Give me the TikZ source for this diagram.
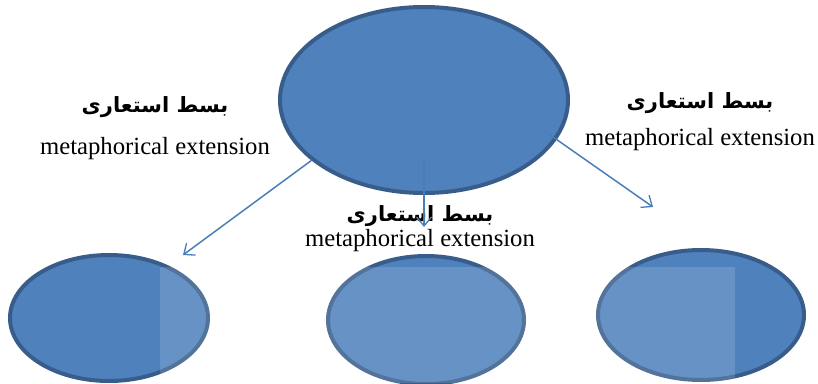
\documentclass[tikz,border=0pt]{standalone}
\usepackage{fontspec}
\setmainfont{Liberation Serif}
\newfontfamily\arabicfont[Script=Arabic]{DejaVu Sans}
\TeXXeTstate=1
\usetikzlibrary{shapes.geometric,arrows.meta}
\definecolor{ofill}{HTML}{4F81BD}
\definecolor{oline}{HTML}{385D8A}
\definecolor{arr}{HTML}{4A7EBB}
\begin{document}
\begin{tikzpicture}[x=1pt,y=-1pt,
  bubble/.style={ellipse,draw=oline,fill=ofill,line width=4pt,inner sep=0pt},
  link/.style={draw=arr,line width=1.5pt,-{Straight Barb[length=9pt,width=15pt,line width=1.3pt]}},
  fa/.style={font=\arabicfont\bfseries\fontsize{21}{24}\selectfont,inner sep=0pt},
  en/.style={font=\fontsize{24.7}{28}\selectfont,inner sep=0pt}]
\useasboundingbox (0,0) rectangle (818,383);
\node[bubble,minimum width=288pt,minimum height=186pt] (top) at (424,100) {};
\node[bubble,minimum width=198pt,minimum height=126pt] (bl) at (109,318) {};
\node[bubble,minimum width=196pt,minimum height=128pt] (bm) at (426,320) {};
\node[bubble,minimum width=206pt,minimum height=130pt] (br) at (701,315) {};
\fill[white,opacity=0.14] (160,267) rectangle (735,383);
\coordinate (s1) at (312,160);
\coordinate (s2) at (424,158);
\coordinate (s3) at (543,130);
\coordinate (e1) at (183,255);
\coordinate (e2) at (424,227);
\coordinate (e3) at (653,207);
\node[fa] (fl) at (155,107) {\beginR بسط استعاری\endR};
\node[en] (el) at (155,149) {metaphorical extension};
\node[fa] (fr) at (700,103) {\beginR بسط استعاری\endR};
\node[en] (er) at (700,140) {metaphorical extension};
\node[fa] (fm) at (420,216) {\beginR بسط استعاری\endR};
\node[en] (em) at (420,241) {metaphorical extension};
\draw[link] (s1) -- (e1);
\draw[link] (s2) -- (e2);
\draw[link] (s3) -- (e3);
\end{tikzpicture}
\end{document}
